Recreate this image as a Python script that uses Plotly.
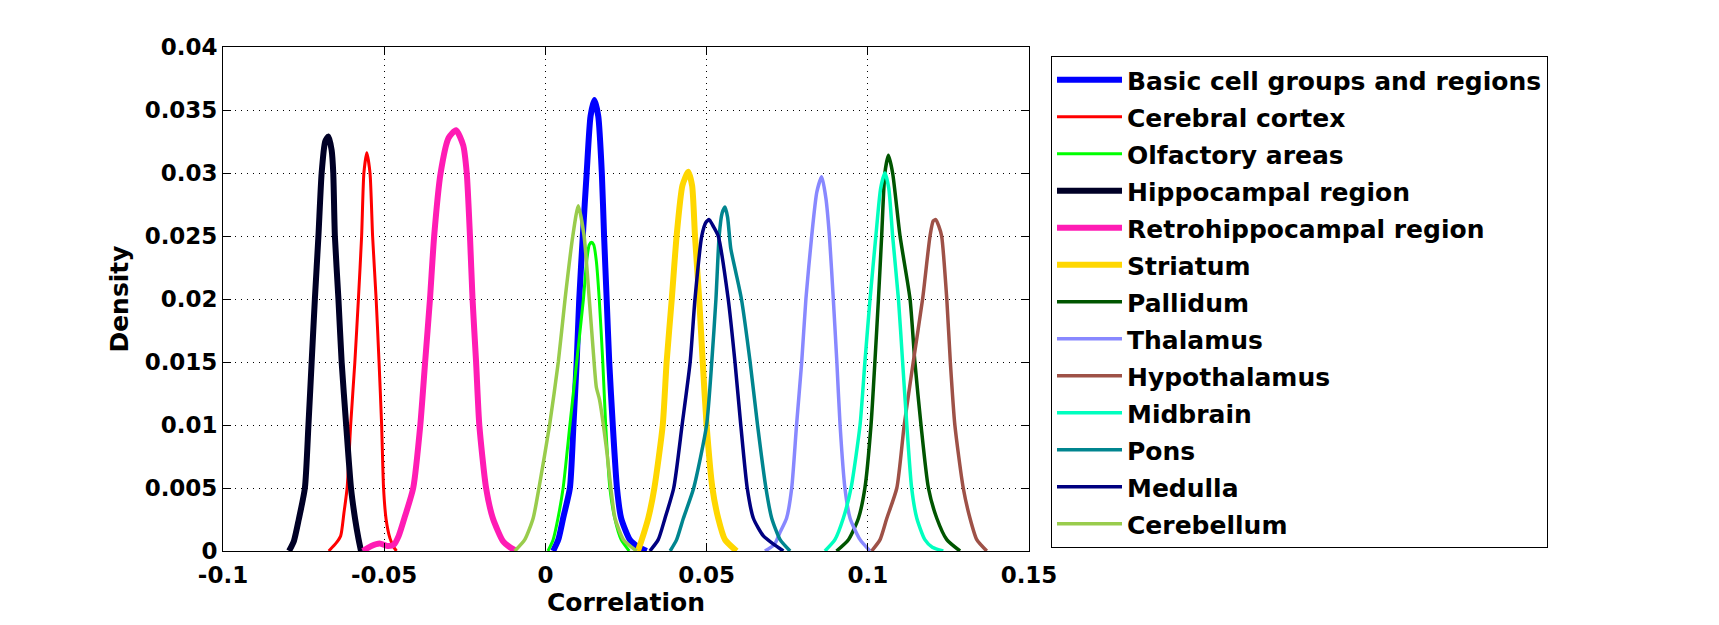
import plotly.graph_objects as go

# ---------------- data ----------------
names = ["Basic cell groups and regions", "Cerebral cortex", "Olfactory areas",
         "Hippocampal region", "Retrohippocampal region", "Striatum", "Pallidum",
         "Thalamus", "Hypothalamus", "Midbrain", "Pons", "Medulla", "Cerebellum"]

basic_x = [0.0024, 0.004, 0.0055, 0.0076, 0.0087, 0.0097, 0.0105, 0.0116, 0.0128, 0.014, 0.0152,
           0.0164, 0.0175, 0.0182, 0.019, 0.0198, 0.0209, 0.0222, 0.0235, 0.0262, 0.029, 0.0314]
basic_y = [0, 0.0009, 0.0026, 0.005, 0.010, 0.015, 0.020, 0.025, 0.030, 0.0345, 0.0358,
           0.0345, 0.030, 0.025, 0.020, 0.015, 0.010, 0.005, 0.0026, 0.0009, 0.0003, 0]

cortex_x = [-0.0672, -0.065, -0.0635, -0.0625, -0.0615, -0.0604, -0.0591, -0.058, -0.057, -0.0563,
            -0.0554, -0.0544, -0.0536, -0.0525, -0.0516, -0.0508, -0.0502, -0.0494, -0.0482, -0.047, -0.0462]
cortex_y = [0, 0.0006, 0.0012, 0.003, 0.005, 0.010, 0.015, 0.020, 0.025, 0.030,
            0.0316, 0.030, 0.025, 0.020, 0.015, 0.010, 0.005, 0.0025, 0.001, 0.0003, 0]

olf_x = [0.0008, 0.0024, 0.0039, 0.0055, 0.0076, 0.0097, 0.0118, 0.0128, 0.0136, 0.0143,
         0.015, 0.0158, 0.0167, 0.0178, 0.0187, 0.020, 0.0215, 0.0235, 0.026]
olf_y = [0, 0.0009, 0.0026, 0.005, 0.010, 0.015, 0.020, 0.023, 0.0243, 0.0245,
         0.0243, 0.023, 0.020, 0.015, 0.010, 0.005, 0.0026, 0.0009, 0]

hip_x = [-0.0795, -0.078, -0.0765, -0.0746, -0.0735, -0.0725, -0.0715, -0.0704, -0.0694, -0.0683,
         -0.0673, -0.0663, -0.0658, -0.0653, -0.0642, -0.0632, -0.0618, -0.0603, -0.059, -0.058, -0.0572]
hip_y = [0, 0.0008, 0.0025, 0.005, 0.010, 0.015, 0.020, 0.025, 0.030, 0.0325,
         0.0329, 0.0318, 0.030, 0.025, 0.020, 0.015, 0.010, 0.005, 0.0025, 0.001, 0]

retro_x = [-0.0566, -0.054, -0.0514, -0.049, -0.047, -0.0455, -0.0435, -0.041, -0.0388, -0.0373,
           -0.0358, -0.0345, -0.0325, -0.030, -0.0277, -0.0255, -0.0244, -0.0234, -0.0226, -0.0215,
           -0.0205, -0.0184, -0.0163, -0.0132, -0.011, -0.009]
retro_y = [0, 0.0004, 0.0006, 0.0004, 0.0005, 0.0012, 0.0028, 0.005, 0.010, 0.015,
           0.020, 0.025, 0.030, 0.0328, 0.0334, 0.0322, 0.030, 0.025, 0.020, 0.015,
           0.010, 0.005, 0.0026, 0.0008, 0.0003, 0]

str_x = [0.0287, 0.0299, 0.0319, 0.0338, 0.0364, 0.0376, 0.0392, 0.0407, 0.0425, 0.0443,
         0.0455, 0.0464, 0.0477, 0.0488, 0.050, 0.0518, 0.0536, 0.0557, 0.0593]
str_y = [0, 0.0009, 0.0026, 0.005, 0.010, 0.015, 0.020, 0.025, 0.029, 0.0301,
         0.029, 0.025, 0.020, 0.015, 0.010, 0.005, 0.0026, 0.0009, 0]

pal_x = [0.0903, 0.094, 0.0971, 0.0991, 0.101, 0.1022, 0.1033, 0.1043, 0.1053, 0.1064,
         0.1077, 0.110, 0.1131, 0.1146, 0.1165, 0.1188, 0.1214, 0.1245, 0.1286]
pal_y = [0, 0.0009, 0.0026, 0.005, 0.010, 0.015, 0.020, 0.025, 0.030, 0.0314,
         0.030, 0.025, 0.020, 0.015, 0.010, 0.005, 0.0026, 0.0009, 0]

thal_x = [0.0681, 0.071, 0.0728, 0.0748, 0.0764, 0.0779, 0.0795, 0.0808, 0.0826, 0.0842,
          0.0857, 0.087, 0.0881, 0.0893, 0.0904, 0.0914, 0.0929, 0.0945, 0.0976, 0.1007]
thal_y = [0, 0.0005, 0.0015, 0.0026, 0.005, 0.010, 0.015, 0.020, 0.025, 0.0285,
          0.0297, 0.028, 0.025, 0.020, 0.015, 0.010, 0.005, 0.0026, 0.0009, 0]

hypo_x = [0.1012, 0.1038, 0.1059, 0.109, 0.1113, 0.1141, 0.117, 0.1193, 0.1203, 0.1211,
          0.122, 0.1229, 0.1245, 0.1256, 0.127, 0.1296, 0.1317, 0.1338, 0.1369]
hypo_y = [0, 0.0009, 0.0026, 0.005, 0.010, 0.015, 0.020, 0.025, 0.0262, 0.0263,
          0.0258, 0.025, 0.020, 0.015, 0.010, 0.005, 0.0026, 0.0009, 0]

mid_x = [0.0867, 0.0898, 0.0924, 0.0948, 0.0976, 0.0991, 0.1007, 0.1025, 0.104, 0.1053,
         0.1065, 0.1077, 0.1095, 0.1108, 0.1121, 0.1136, 0.1152, 0.1177, 0.120, 0.1234]
mid_y = [0, 0.0009, 0.0026, 0.005, 0.010, 0.015, 0.020, 0.025, 0.0288, 0.0300,
         0.0288, 0.025, 0.020, 0.015, 0.010, 0.005, 0.0026, 0.0009, 0.0003, 0]

pons_x = [0.0387, 0.0407, 0.0428, 0.046, 0.050, 0.0516, 0.0529, 0.0539, 0.0548, 0.0557,
          0.0565, 0.0575, 0.059, 0.0608, 0.0635, 0.0658, 0.0684, 0.0702, 0.0728, 0.0759]
pons_y = [0, 0.0009, 0.0026, 0.005, 0.010, 0.015, 0.020, 0.025, 0.0268, 0.0273,
          0.0265, 0.024, 0.0222, 0.020, 0.015, 0.010, 0.005, 0.0026, 0.0009, 0]

med_x = [0.0324, 0.035, 0.0371, 0.0398, 0.0424, 0.0449, 0.0464, 0.0485, 0.0498, 0.0508,
         0.052, 0.0536, 0.0567, 0.0588, 0.0606, 0.0626, 0.0645, 0.0676, 0.071, 0.0738]
med_y = [0, 0.0009, 0.0026, 0.005, 0.010, 0.015, 0.020, 0.025, 0.0261, 0.0263,
         0.0258, 0.025, 0.020, 0.015, 0.010, 0.005, 0.0026, 0.0012, 0.0005, 0]

cbl_x = [-0.0095, -0.0064, -0.0038, -0.002, 0.0013, 0.004, 0.0061, 0.0085, 0.0102, 0.012,
         0.0136, 0.0148, 0.0158, 0.0168, 0.019, 0.0203, 0.0216, 0.0242, 0.0283]
cbl_y = [0, 0.0009, 0.0026, 0.005, 0.010, 0.015, 0.020, 0.025, 0.0274, 0.025,
         0.020, 0.016, 0.013, 0.012, 0.008, 0.005, 0.0026, 0.0009, 0]

series_x = [basic_x, cortex_x, olf_x, hip_x, retro_x, str_x, pal_x, thal_x, hypo_x, mid_x, pons_x, med_x, cbl_x]
series_y = [basic_y, cortex_y, olf_y, hip_y, retro_y, str_y, pal_y, thal_y, hypo_y, mid_y, pons_y, med_y, cbl_y]

x_ticks = [-0.1, -0.05, 0, 0.05, 0.1, 0.15]
x_ticklabels = ["-0.1", "-0.05", "0", "0.05", "0.1", "0.15"]
y_ticks = [0, 0.005, 0.01, 0.015, 0.02, 0.025, 0.03, 0.035, 0.04]
y_ticklabels = ["0", "0.005", "0.01", "0.015", "0.02", "0.025", "0.03", "0.035", "0.04"]

# ---------------- styles ----------------
colors = ["#0000ff", "#ff0000", "#00ff00", "#000026", "#ff1cb4", "#ffd700", "#005500",
          "#8888ff", "#9e5147", "#00ffbf", "#00858f", "#000080", "#99cc4c"]
widths = [6, 3, 3, 6, 6, 6, 3.5, 3.5, 3.5, 3.5, 3.5, 3.5, 3.5]

FONT = "DejaVu Sans"

fig = go.Figure()
for i, nm in enumerate(names):
    fig.add_trace(go.Scatter(
        x=series_x[i], y=series_y[i], mode="lines", name=nm,
        legendgroup=f"g{i}",
        line=dict(color=colors[i], width=widths[i], shape="spline", smoothing=0.6),
    ))

axis_common = dict(
    showline=True, linecolor="black", linewidth=1, mirror="ticks",
    ticks="inside", ticklen=8, tickcolor="black", tickwidth=1,
    showgrid=True, gridcolor="black", gridwidth=1, griddash="1px,5px",
    zeroline=False,
    tickfont=dict(family=FONT, size=23, color="black", weight="bold"),
)

fig.update_xaxes(
    range=[-0.1, 0.15], tickvals=x_ticks, ticktext=x_ticklabels,
    ticklabelstandoff=3,
    title=dict(text="Correlation", font=dict(family=FONT, size=25, color="black", weight="bold"),
               standoff=0),
    automargin=True, **axis_common)
fig.update_yaxes(
    range=[0, 0.04], tickvals=y_ticks, ticktext=y_ticklabels,
    title=dict(text="Density", font=dict(family=FONT, size=25, color="black", weight="bold"),
               standoff=8),
    automargin=True, **axis_common)

fig.update_layout(
    width=1719, height=625,
    margin=dict(l=223, r=690, t=47, b=74, autoexpand=False),
    plot_bgcolor="white", paper_bgcolor="white",
    showlegend=True,
    legend=dict(
        xref="container", yref="container", x=1051 / 1719, y=1 - 56 / 625,
        xanchor="left", yanchor="top", maxheight=1.0,
        bgcolor="white", bordercolor="black", borderwidth=1,
        font=dict(family=FONT, size=25, color="black", weight="bold"),
        itemwidth=65, tracegroupgap=1.5, traceorder="grouped",
    ),
)

fig.write_html("out.html", config={"displayModeBar": False},
               post_script="document.body.style.margin='0';document.body.style.padding='0';")
